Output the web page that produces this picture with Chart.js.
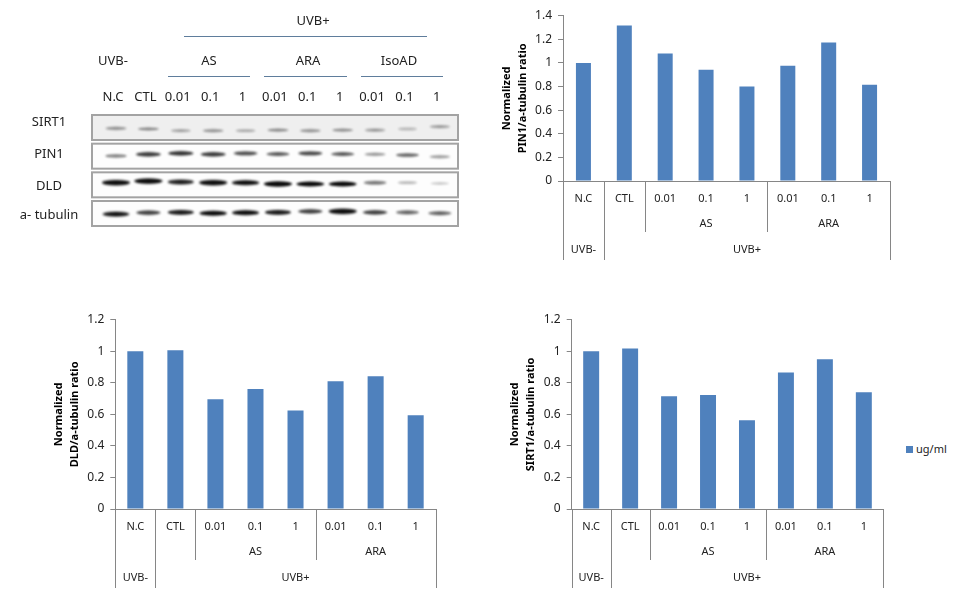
<!DOCTYPE html>
<html>
<head>
<meta charset="utf-8">
<title>UVB blot and ratios</title>
<script src="https://cdn.jsdelivr.net/npm/chart.js@4/dist/chart.umd.min.js"></script>
<style>
    html, body { margin: 0; padding: 0; background: #fff; }
    body { width: 962px; height: 594px; position: relative; overflow: hidden; font-family: "Noto Sans", sans-serif; }
    canvas { position: absolute; }
    #blot { left: 0; top: 0; }
    #pin1 { left: 490px; top: 0; }
    #dld { left: 40px; top: 305px; }
    #sirt1 { left: 500px; top: 305px; }
    #legend { position: absolute; left: 906px; top: 441px; font-size: 11px; line-height: 16px; color: #222; }
    #legend i { display: inline-block; width: 7px; height: 7px; margin-right: 3px; }
</style>
</head>
<body>
<canvas id="blot" width="480" height="240"></canvas>
<canvas id="pin1" width="420" height="270"></canvas>
<canvas id="dld" width="420" height="289"></canvas>
<canvas id="sirt1" width="400" height="289"></canvas>
<div id="legend"></div>

<script>
// bar charts
const categories = ['N.C', 'CTL', '0.01', '0.1', '1', '0.01', '0.1', '1'];
const drugGroups = ['', '', 'AS', 'AS', 'AS', 'ARA', 'ARA', 'ARA'];
const uvbGroups = ['UVB-', 'UVB+', 'UVB+', 'UVB+', 'UVB+', 'UVB+', 'UVB+', 'UVB+'];
const pin1Values = [1.0, 1.316, 1.08, 0.943, 0.80, 0.977, 1.172, 0.816];
const dldValues = [1.0, 1.006, 0.696, 0.76, 0.624, 0.81, 0.842, 0.595];
const sirt1Values = [1.0, 1.017, 0.715, 0.722, 0.563, 0.865, 0.949, 0.74];
const seriesName = 'ug/ml';

// western blot: lanes, rows, band darkness (0-1) and band height in row units
const blotLanes = ['N.C', 'CTL', '0.01', '0.1', '1', '0.01', '0.1', '1', '0.01', '0.1', '1'];
const blotRows = ['SIRT1', 'PIN1', 'DLD', 'a- tubulin'];
const sirt1Bands = [0.3, 0.3, 0.18, 0.28, 0.16, 0.3, 0.28, 0.28, 0.24, 0.1, 0.22];
const pin1Bands = [0.35, 0.68, 0.72, 0.68, 0.58, 0.52, 0.62, 0.52, 0.3, 0.48, 0.26];
const dldBands = [1, 1, 0.8, 1, 0.92, 1, 0.95, 0.95, 0.45, 0.14, 0.05];
const tubulinBands = [0.85, 0.65, 0.8, 0.92, 0.9, 0.8, 0.65, 1, 0.65, 0.5, 0.5];
const sirt1BandY = [0.03, 0.05, 0.11, 0.11, 0.11, 0.09, 0.11, 0.09, 0.09, 0.05, -0.03];
const pin1BandY = [0.99, 0.935, 0.9, 0.935, 0.9, 0.925, 0.9, 0.925, 0.935, 0.96, 1.02];
const dldBandY = [1.925, 1.87, 1.9, 1.925, 1.925, 1.97, 1.97, 1.97, 1.925, 1.925, 1.95];
const tubulinBandY = [3.02, 2.97, 2.96, 2.99, 2.97, 2.96, 2.925, 2.925, 2.96, 2.96, 2.99];

const BAR_COLOR = '#4f81bd';
const AXIS_COLOR = '#868686';
const TEXT_COLOR = '#222';
const FONT = '"Noto Sans", sans-serif';

Chart.defaults.font.family = FONT;
Chart.defaults.animation = false;

// split an array of labels into runs of equal neighbours
function getRuns(labels) {
    const runs = [];
    labels.forEach((label, i) => {
        const last = runs[runs.length - 1];
        if (last && last.label === label) last.to = i;
        else runs.push({ label: label, from: i, to: i });
    });
    return runs;
}

// excel style multi level category axis
const groupAxisPlugin = {
    id: 'groupAxis',
    afterDraw(chart) {
        const ctx = chart.ctx;
        const x = chart.scales.x;
        const zero = chart.scales.y.getPixelForValue(0);
        const half = (x.getPixelForValue(1) - x.getPixelForValue(0)) / 2;
        ctx.save();
        ctx.strokeStyle = AXIS_COLOR;
        ctx.lineWidth = 1;
        ctx.fillStyle = TEXT_COLOR;
        ctx.font = '11px ' + FONT;
        ctx.textAlign = 'center';
        ctx.textBaseline = 'middle';
        const drawLevel = (labels, depth, textY) => {
            getRuns(labels).forEach(run => {
                const left = x.getPixelForValue(run.from) - half;
                const right = x.getPixelForValue(run.to) + half;
                [left, right].forEach(px => {
                    ctx.beginPath();
                    ctx.moveTo(Math.round(px) + 0.5, zero);
                    ctx.lineTo(Math.round(px) + 0.5, zero + depth);
                    ctx.stroke();
                });
                if (run.label) ctx.fillText(run.label, (left + right) / 2, zero + textY);
            });
        };
        drawLevel(drugGroups, 51, 43);
        drawLevel(uvbGroups, 79, 69);
        ctx.restore();
    }
};

function drawRatioChart(id, values, yMax, titleLines, axisWidth, axisHeight, titleGap, padRight, padTop, barShare) {
    return new Chart(document.getElementById(id), {
        type: 'bar',
        data: {
            labels: categories,
            datasets: [{ label: seriesName, data: values, backgroundColor: BAR_COLOR, barPercentage: barShare, categoryPercentage: 1 }]
        },
        options: {
            responsive: false,
            layout: { padding: { top: padTop, right: padRight, left: 0, bottom: 0 } },
            plugins: { legend: { display: false }, tooltip: { enabled: false } },
            scales: {
                x: {
                    grid: { display: false },
                    border: { color: AXIS_COLOR },
                    ticks: { color: TEXT_COLOR, font: { size: 11 }, padding: 3, maxRotation: 0, autoSkip: false },
                    afterFit(scale) { scale.height = axisHeight; }
                },
                y: {
                    min: 0,
                    max: yMax,
                    grid: { drawOnChartArea: false, color: AXIS_COLOR, tickLength: 5 },
                    border: { color: AXIS_COLOR },
                    ticks: {
                        stepSize: 0.2,
                        color: TEXT_COLOR,
                        font: { size: 12 },
                        padding: 6,
                        callback: v => String(+v.toFixed(1))
                    },
                    title: {
                        display: true,
                        text: titleLines,
                        color: '#000',
                        font: { size: 11, weight: 'bold', lineHeight: 1.45 },
                        padding: { top: titleGap, bottom: 0 }
                    },
                    afterFit(scale) { scale.width = axisWidth; }
                }
            }
        },
        plugins: [groupAxisPlugin]
    });
}

drawRatioChart('pin1', pin1Values, 1.4, ['Normalized', 'PIN1/a-tubulin ratio'], 73, 89, 9, 20, 15.7, 0.367);
drawRatioChart('dld', dldValues, 1.2, ['Normalized', 'DLD/a-tubulin ratio'], 75.3, 85, 11.3, 24.3, 14.7, 0.4);
drawRatioChart('sirt1', sirt1Values, 1.2, ['Normalized', 'SIRT1/a-tubulin ratio'], 71.7, 85, 7, 16.7, 14.7, 0.41);

document.getElementById('legend').innerHTML = `<i style="background:${BAR_COLOR}"></i>${seriesName}`;

// one soft blurred band sprite, darker and wider for stronger bands
function makeBand(level) {
    const w = 18 + 10 * level;
    const h = 2.2 + 3.2 * level;
    const c = document.createElement('canvas');
    c.width = Math.ceil(w) + 8;
    c.height = Math.ceil(h) + 8;
    const g = c.getContext('2d');
    g.filter = 'blur(1.1px)';
    g.fillStyle = `rgba(10,10,10,${Math.min(1, 0.2 + level * 0.9)})`;
    g.beginPath();
    g.ellipse(c.width / 2, c.height / 2, w / 2, h / 2, 0, 0, Math.PI * 2);
    g.fill();
    return c;
}

const blotHeaders = [
    { text: 'UVB+', x: 313, y: 21 },
    { text: 'UVB-', x: 113, y: 61 },
    { text: 'AS', x: 209, y: 61 },
    { text: 'ARA', x: 308, y: 61 },
    { text: 'IsoAD', x: 399, y: 61 }
];
const blotRules = [
    { from: 184, to: 427, y: 36 },
    { from: 168, to: 250, y: 76 },
    { from: 264, to: 347, y: 76 },
    { from: 361, to: 443, y: 76 }
];
const rowLabelShift = [-5, -2, 1, 1.5];

const blotPanelPlugin = {
    id: 'blotPanels',
    beforeDatasetsDraw(chart) {
        const ctx = chart.ctx;
        const y = chart.scales.y;
        ctx.save();
        blotRows.forEach((row, i) => {
            const mid = y.getPixelForValue(i);
            ctx.fillStyle = i === 0 ? '#efefef' : '#fdfdfd';
            ctx.strokeStyle = '#a3a3a3';
            ctx.lineWidth = 2;
            ctx.fillRect(92, mid - 12.5, 366, 25);
            ctx.strokeRect(92, mid - 12.5, 366, 25);
            ctx.fillStyle = TEXT_COLOR;
            ctx.font = '13px ' + FONT;
            ctx.textAlign = 'center';
            ctx.textBaseline = 'middle';
            ctx.fillText(row, 49, mid + rowLabelShift[i]);
        });
        blotHeaders.forEach(h => ctx.fillText(h.text, h.x, h.y));
        ctx.strokeStyle = '#5f7d9c';
        ctx.lineWidth = 1;
        blotRules.forEach(r => {
            ctx.beginPath();
            ctx.moveTo(r.from, r.y + 0.5);
            ctx.lineTo(r.to, r.y + 0.5);
            ctx.stroke();
        });
        ctx.restore();
    }
};

function bandPoints(positions) {
    return positions.map((pos, lane) => ({ x: lane, y: pos }));
}

const bandSets = [
    [sirt1BandY, sirt1Bands],
    [pin1BandY, pin1Bands],
    [dldBandY, dldBands],
    [tubulinBandY, tubulinBands]
];

new Chart(document.getElementById('blot'), {
    type: 'scatter',
    data: {
        labels: blotLanes,
        datasets: bandSets.map((set, i) => ({
            label: blotRows[i],
            data: bandPoints(set[0]),
            pointStyle: set[1].map(makeBand)
        }))
    },
    options: {
        responsive: false,
        layout: { padding: { left: 99.8, right: 24, top: 0, bottom: 13.6 } },
        plugins: { legend: { display: false }, tooltip: { enabled: false } },
        scales: {
            x: {
                type: 'category',
                labels: blotLanes,
                offset: true,
                position: 'top',
                grid: { display: false },
                border: { display: false },
                ticks: { color: TEXT_COLOR, font: { size: 13 }, padding: 2, labelOffset: -3, maxRotation: 0, autoSkip: false },
                afterFit(scale) { scale.height = 114.6; }
            },
            y: { display: false, reverse: true, min: -0.45, max: 3.45 }
        }
    },
    plugins: [blotPanelPlugin]
});
</script>
</body>
</html>
